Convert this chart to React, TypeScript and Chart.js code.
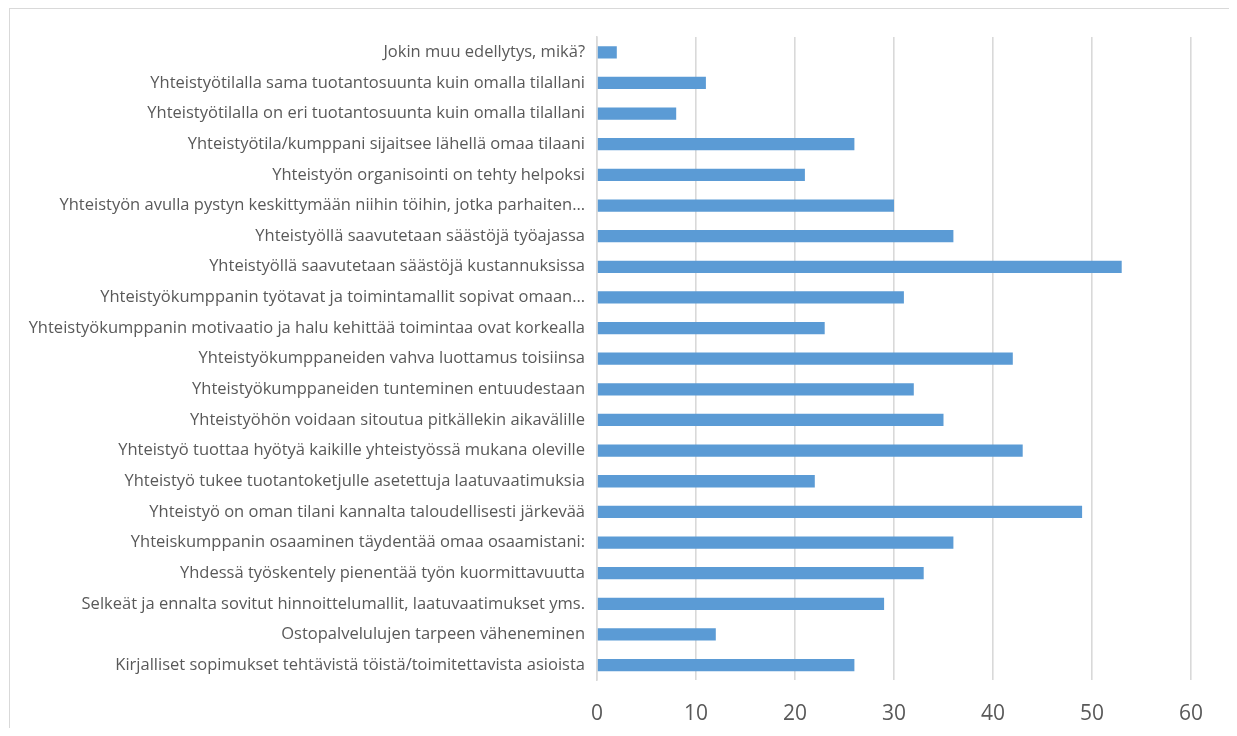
import React, { useEffect, useRef } from "react";
import { Chart, registerables } from "chart.js";

Chart.register(...registerables);

const categories: string[] = [
  "Jokin muu edellytys, mikä?",
  "Yhteistyötilalla sama tuotantosuunta kuin omalla tilallani",
  "Yhteistyötilalla on eri tuotantosuunta kuin omalla tilallani",
  "Yhteistyötila/kumppani sijaitsee lähellä omaa tilaani",
  "Yhteistyön organisointi on tehty helpoksi",
  "Yhteistyön avulla pystyn keskittymään niihin töihin, jotka parhaiten…",
  "Yhteistyöllä saavutetaan säästöjä työajassa",
  "Yhteistyöllä saavutetaan säästöjä kustannuksissa",
  "Yhteistyökumppanin työtavat ja toimintamallit sopivat omaan…",
  "Yhteistyökumppanin motivaatio ja halu kehittää toimintaa ovat korkealla",
  "Yhteistyökumppaneiden vahva luottamus toisiinsa",
  "Yhteistyökumppaneiden tunteminen entuudestaan",
  "Yhteistyöhön voidaan sitoutua pitkällekin aikavälille",
  "Yhteistyö tuottaa hyötyä kaikille yhteistyössä mukana oleville",
  "Yhteistyö tukee tuotantoketjulle asetettuja laatuvaatimuksia",
  "Yhteistyö on oman tilani kannalta taloudellisesti järkevää",
  "Yhteiskumppanin osaaminen täydentää omaa osaamistani:",
  "Yhdessä työskentely pienentää työn kuormittavuutta",
  "Selkeät ja ennalta sovitut hinnoittelumallit, laatuvaatimukset yms.",
  "Ostopalvelulujen tarpeen väheneminen",
  "Kirjalliset sopimukset tehtävistä töistä/toimitettavista asioista",
];

const values: number[] = [
  2, 11, 8, 26, 21, 30, 36, 53, 31, 23, 42, 32, 35, 43, 22, 49, 36, 33, 29, 12, 26,
];

const xMin = 0;
const xMax = 60;
const xStep = 10;

export default function App() {
  const canvasRef = useRef<HTMLCanvasElement | null>(null);

  useEffect(() => {
    if (!canvasRef.current) return;
    const chart = new Chart(canvasRef.current, {
      type: "bar",
      data: {
        labels: categories,
        datasets: [
          {
            data: values,
            backgroundColor: "#5b9bd5",
            borderWidth: 0,
            categoryPercentage: 1,
            barPercentage: 0.4,
          },
        ],
      },
      options: {
        indexAxis: "y",
        animation: false,
        responsive: false,
        maintainAspectRatio: false,
        layout: { padding: { top: 28, right: 42, bottom: 0, left: 0 } },
        plugins: { legend: { display: false }, tooltip: { enabled: false } },
        scales: {
          x: {
            min: xMin,
            max: xMax,
            ticks: {
              stepSize: xStep,
              color: "#595959",
              padding: 21,
              font: { family: "'Open Sans'", size: 21 },
            },
            grid: { color: "#d9d9d9", lineWidth: 1.6, drawTicks: false },
            border: { display: false },
            afterFit: (scale: any) => {
              scale.height = 47.6;
            },
          },
          y: {
            ticks: {
              color: "#595959",
              padding: 12,
              autoSkip: false,
              font: { family: "'Open Sans'", size: 16.5 },
            },
            grid: { display: false, drawTicks: false },
            border: { display: true, color: "#d9d9d9", width: 1.6 },
            afterFit: (scale: any) => {
              scale.width = 587;
            },
          },
        },
      },
    });
    return () => chart.destroy();
  }, []);

  return (
    <div
      style={{
        marginLeft: 1,
        width: 1223,
        height: 719,
        borderTop: "1px solid #d9d9d9",
        borderLeft: "1px solid #d9d9d9",
        borderRight: "1px solid #d9d9d9",
        overflow: "hidden",
      }}
    >
      <canvas ref={canvasRef} width={1223} height={719} style={{ display: "block" }} />
    </div>
  );
}
